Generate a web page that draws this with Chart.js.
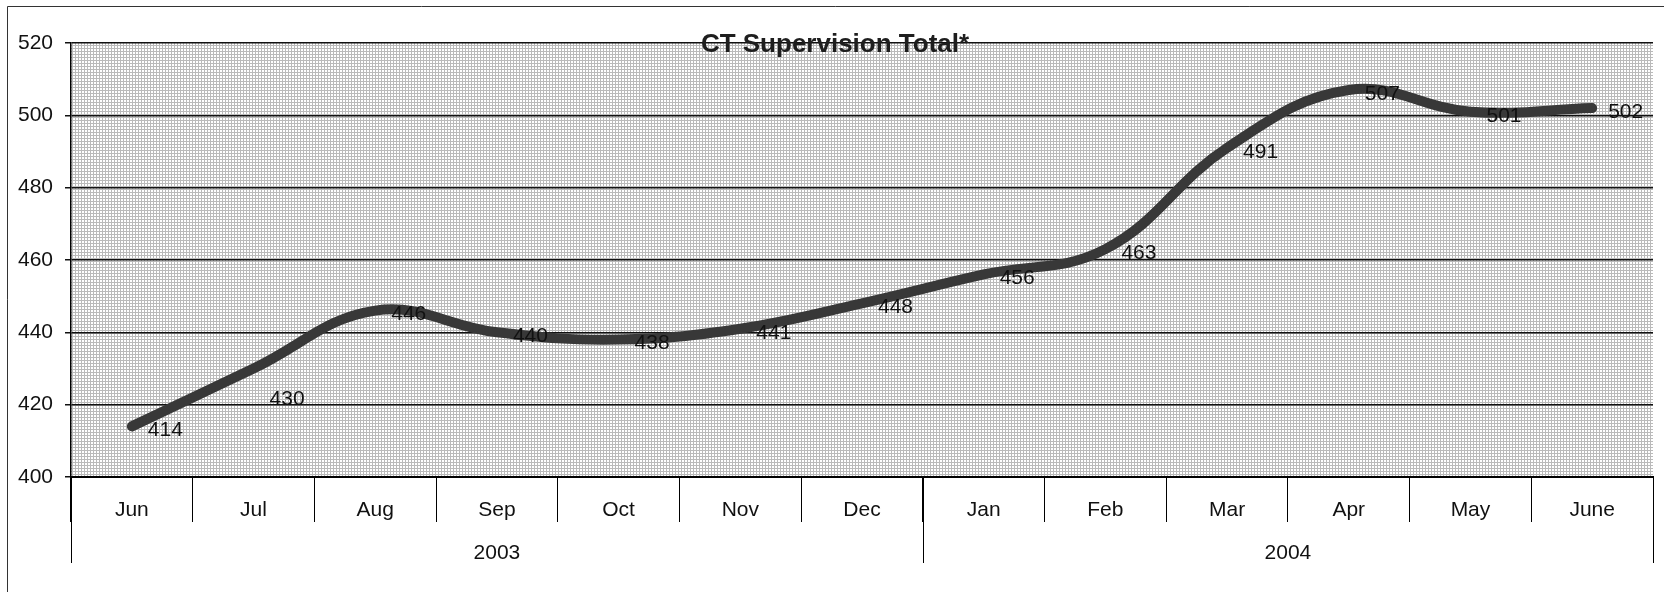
<!DOCTYPE html>
<html>
<head>
<meta charset="utf-8">
<script src="https://cdn.jsdelivr.net/npm/chart.js@4.4.1/dist/chart.umd.min.js"></script>
<style>
  html, body { margin: 0; padding: 0; background: #fff; overflow: hidden; }
  #wrap { width: 1664px; height: 592px; position: relative; }
</style>
</head>
<body>
<div id="wrap"><canvas id="c"></canvas></div>
<script>
// ---- data ----
const categories = ['Jun', 'Jul', 'Aug', 'Sep', 'Oct', 'Nov', 'Dec', 'Jan', 'Feb', 'Mar', 'Apr', 'May', 'June'];
const values = [414, 430, 446, 440, 438, 441, 448, 456, 463, 491, 507, 501, 502];
const years = ['2003', '2004'];
const monthsPerYear = [7, 6];
const yMin = 400, yMax = 520, yStep = 20;
const titleText = 'CT Supervision Total*';

const FONT = "'Liberation Sans', Arial, Helvetica, sans-serif";

// dotted background pattern
function makePattern(ctx) {
  const t = document.createElement('canvas');
  t.width = 3; t.height = 3;
  const g = t.getContext('2d');
  g.fillStyle = '#ffffff'; g.fillRect(0, 0, 3, 3);
  g.fillStyle = '#bababa';
  g.fillRect(0, 0, 3, 1);
  g.fillRect(0, 0, 1, 3);
  return ctx.createPattern(t, 'repeat');
}

const decorPlugin = {
  id: 'decor',
  beforeDraw(chart) {
    const { ctx, chartArea: a } = chart;
    ctx.save();
    ctx.fillStyle = makePattern(ctx);
    ctx.fillRect(a.left, a.top, a.right - a.left, a.bottom - a.top);
    // outer frame
    ctx.strokeStyle = '#333';
    ctx.lineWidth = 1;
    ctx.beginPath();
    ctx.moveTo(7.5, 592); ctx.lineTo(7.5, 6.5); ctx.lineTo(1664, 6.5);
    ctx.stroke();
    ctx.restore();
  },
  afterDraw(chart) {
    const { ctx, chartArea: a } = chart;
    const xs = chart.scales.x;
    ctx.save();
    // year tier dividers and labels
    ctx.strokeStyle = '#000';
    ctx.lineWidth = 1;
    const half = (xs.getPixelForValue(1) - xs.getPixelForValue(0)) / 2;
    let start = 0;
    const edges = [xs.getPixelForValue(0) - half];
    ctx.fillStyle = '#111';
    ctx.font = '21px ' + FONT;
    ctx.textAlign = 'center';
    ctx.textBaseline = 'middle';
    monthsPerYear.forEach((n, i) => {
      const x0 = xs.getPixelForValue(start) - half;
      const x1 = xs.getPixelForValue(start + n - 1) + half;
      edges.push(x1);
      ctx.fillText(years[i], (x0 + x1) / 2, a.bottom + 76);
      start += n;
    });
    edges.forEach(x => {
      const px = Math.round(x) + 0.5;
      ctx.beginPath();
      ctx.moveTo(px, a.bottom);
      ctx.lineTo(px, a.bottom + 86);
      ctx.stroke();
    });
    // data labels
    const meta = chart.getDatasetMeta(0);
    ctx.font = '21px ' + FONT;
    ctx.textAlign = 'left';
    ctx.fillStyle = '#111';
    meta.data.forEach((pt, i) => {
      const dy = (i === 1) ? 31 : 4;
      ctx.fillText(String(values[i]), pt.x + 16, pt.y + dy);
    });
    // title
    ctx.font = 'bold 26px ' + FONT;
    ctx.textAlign = 'center';
    ctx.fillStyle = '#1e1e1e';
    ctx.fillText(titleText, 835, 45);
    ctx.restore();
  }
};

new Chart(document.getElementById('c'), {
  type: 'line',
  data: {
    labels: categories,
    datasets: [{
      data: values,
      borderColor: '#383838',
      borderWidth: 10,
      borderCapStyle: 'round',
      borderJoinStyle: 'round',
      tension: 0.4,
      pointRadius: 0,
      pointHoverRadius: 0,
      fill: false,
      clip: false
    }]
  },
  options: {
    responsive: true,
    maintainAspectRatio: false,
    animation: false,
    events: [],
    layout: { padding: { top: 43, right: 11, left: 0, bottom: 0 } },
    plugins: { legend: { display: false }, tooltip: { enabled: false }, title: { display: false } },
    scales: {
      x: {
        type: 'category',
        offset: true,
        grid: {
          display: true,
          offset: true,
          drawOnChartArea: false,
          drawTicks: true,
          tickLength: 45,
          color: '#000',
          lineWidth: 1
        },
        border: { display: true, color: '#000', width: 2 },
        ticks: {
          font: { family: FONT, size: 21 },
          color: '#111',
          padding: -24,
          maxRotation: 0,
          autoSkip: false
        },
        afterFit(scale) { scale.height = 115; }
      },
      y: {
        min: yMin,
        max: yMax,
        grid: {
          color: '#111',
          lineWidth: 1.5,
          tickLength: 6
        },
        border: { display: true, color: '#000', width: 1.5 },
        ticks: {
          stepSize: yStep,
          font: { family: FONT, size: 21 },
          color: '#111',
          padding: 12
        },
        afterFit(scale) { scale.width = 71; }
      }
    }
  },
  plugins: [decorPlugin]
});
</script>
</body>
</html>
